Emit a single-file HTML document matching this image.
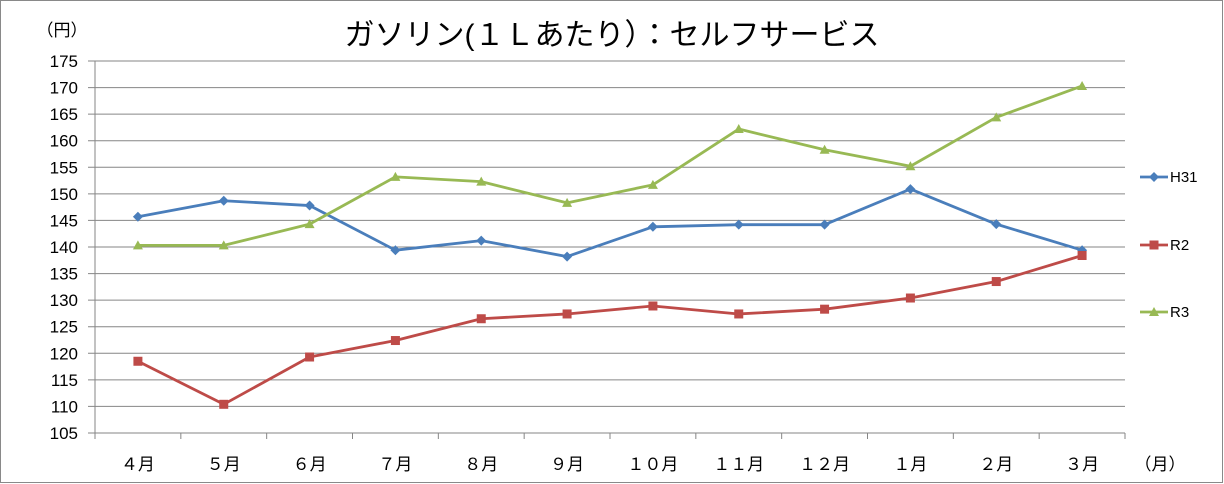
<!DOCTYPE html>
<html><head><meta charset="utf-8">
<style>
html,body{margin:0;padding:0;background:#fff;}
svg{display:block;font-family:"Liberation Sans","Noto Sans CJK JP",sans-serif;}
</style></head>
<body>
<svg id="chart" width="1224" height="484" viewBox="0 0 1224 484" xmlns="http://www.w3.org/2000/svg">
<rect x="0.5" y="0.5" width="1222" height="482" fill="#fff" stroke="#898989"/>
<text x="612" y="45" text-anchor="middle" font-size="30" fill="#000">ガソリン(１Ｌあたり）：セルフサービス</text>
<text x="62" y="36" text-anchor="middle" font-size="17" fill="#000">（円）</text>
<text x="1160" y="470" text-anchor="middle" font-size="17" fill="#000">（月）</text>
<g id="grid"></g>
<g id="series"></g>
<g id="legend"></g>
</svg>
<script>
const categories=["４月","５月","６月","７月","８月","９月","１０月","１１月","１２月","１月","２月","３月"];
const yTicks=[105,110,115,120,125,130,135,140,145,150,155,160,165,170,175];
const h31=[145.7,148.7,147.8,139.4,141.2,138.2,143.8,144.2,144.2,150.9,144.3,139.4];
const r2=[118.5,110.4,119.3,122.4,126.5,127.4,128.9,127.4,128.3,130.4,133.5,138.4];
const r3=[140.3,140.3,144.3,153.2,152.3,148.3,151.7,162.2,158.3,155.2,164.4,170.3];
const seriesNames=["H31","R2","R3"];
const NS="http://www.w3.org/2000/svg";
const X0=95,X1=1125,Y0=433,Y1=61,VMIN=105,VMAX=175;
function xPos(i){return X0+(X1-X0)/categories.length*(i+0.5);}
function yPos(v){return Y0-(v-VMIN)/(VMAX-VMIN)*(Y0-Y1);}
function mk(tag,attrs,parent){const e=document.createElementNS(NS,tag);for(const k in attrs)e.setAttribute(k,attrs[k]);parent.appendChild(e);return e;}
const grid=document.getElementById('grid');
yTicks.forEach(v=>{
  const y=yPos(v);
  const l=mk('line',{x1:88,x2:1125,y1:y,y2:y,stroke:'#868686','stroke-width':1},grid);
  
  
  const t=mk('text',{x:78,y:y+6,'text-anchor':'end','font-size':17,fill:'#000'},grid);
  t.textContent=v;
  
  
});
const ax=mk('line',{x1:X0,x2:X0,y1:Y1,y2:Y0+6,stroke:'#868686'},grid);


for(let i=0;i<=categories.length;i++){
  const x=X0+(X1-X0)/categories.length*i;
  const tk=mk('line',{x1:x,x2:x,y1:Y0,y2:Y0+6,stroke:'#868686'},grid);
  
  
}
categories.forEach((c,i)=>{
  const t=mk('text',{x:xPos(i),y:470,'text-anchor':'middle','font-size':17,fill:'#000'},grid);
  t.textContent=c;
  
  
});
const colors=["#4a7ebb","#be4b48","#98b954"];
const datas=[h31,r2,r3];
function marker(kind,x,y,color,parent){
  let m;
  if(kind===0)m=mk('polygon',{points:`${x},${y-5} ${x+5},${y} ${x},${y+5} ${x-5},${y}`,fill:color},parent);
  else if(kind===1)m=mk('rect',{x:x-4.5,y:y-4.5,width:9,height:9,fill:color},parent);
  else m=mk('polygon',{points:`${x},${y-5} ${x+5},${y+4} ${x-5},${y+4}`,fill:color},parent);
  return m;
}
const sg=document.getElementById('series');
datas.forEach((d,s)=>{
  const g=mk('g',{},sg);
  
  
  const pl=mk('polyline',{points:d.map((v,i)=>xPos(i)+','+yPos(v)).join(' '),fill:'none',stroke:colors[s],'stroke-width':2.8,'stroke-linejoin':'round'},g);
  
  
  d.forEach((v,i)=>{
    const m=marker(s,xPos(i),yPos(v),colors[s],g);
    
    
  });
});
const lg=document.getElementById('legend');
const ly=[177,245,312];
seriesNames.forEach((n,s)=>{
  const g=mk('g',{},lg);
  
  
  mk('line',{x1:1140,x2:1168,y1:ly[s],y2:ly[s],stroke:colors[s],'stroke-width':2.8},g);
  marker(s,1154,ly[s],colors[s],g);
  const t=mk('text',{x:1170,y:ly[s]+5,'font-size':15,fill:'#000'},g);
  t.textContent=n;
});
</script>
</body></html>
